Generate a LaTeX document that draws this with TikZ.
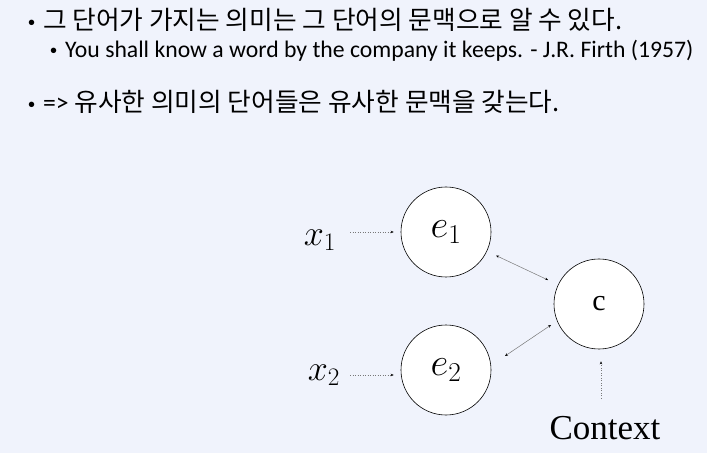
\documentclass[tikz,border=0pt]{standalone}
\usepackage{fix-cm}
\usepackage{fontspec}
\setmainfont{Liberation Serif}
\newfontfamily\krfont{Noto Sans CJK KR}
\newfontfamily\carfont{Carlito}
\newfontfamily\bulfont{Liberation Sans}
\usetikzlibrary{arrows.meta}
\definecolor{bg}{RGB}{240,243,252}
\definecolor{ln}{RGB}{120,120,120}
\newcommand{\bult}{{\bulfont\fontsize{20}{22}\selectfont\raisebox{0.5pt}{•}}}
\tikzset{
  emb/.style={circle,draw=black,fill=white,line width=0.6pt,minimum size=90pt,inner sep=0pt},
  dotarrow/.style={draw=ln,line width=0.5pt,dotted,-{Stealth[length=3pt,width=2.5pt,black]}},
  bothway/.style={draw=ln,line width=0.5pt,{Stealth[length=3pt,width=2.5pt,black]}-{Stealth[length=3pt,width=2.5pt,black]}},
  mlabel/.style={inner sep=0pt,font=\fontsize{36}{40}\selectfont},
  bul/.style={inner sep=0pt,anchor=base west}
}
\begin{document}
\begin{tikzpicture}[x=1pt,y=1pt]
\fill[bg] (0,0) rectangle (707,453);
\useasboundingbox (0,0) rectangle (707,453);
% texts
\node[bul] (b1) at (28,423) {\bult};
\node[bul] (t1) at (43,423) {\fontsize{25.7}{28}\selectfont\krfont 그 단어가 가지는 의미는 그 단어의 문맥으로 알 수 있다.};
\node[bul] (b2) at (50,395) {\bult};
\node[bul] (t2) at (65,395) {\fontsize{23.7}{26}\selectfont\carfont You shall know a word by the company it keeps. - J.R. Firth (1957)};
\node[bul] (b3) at (28,341) {\bult};
\node[bul] (t3) at (43,341) {\fontsize{25.7}{28}\selectfont\carfont => \krfont 유사한 의미의 단어들은 유사한 문맥을 갖는다.};
% nodes
\node[emb] (e1) at (446,221) {\fontsize{39}{42}\selectfont$e_1$};
\node[emb] (e2) at (446,83) {\fontsize{39}{42}\selectfont$e_2$};
\node[emb] (c) at (599,149) {\fontsize{30}{34}\selectfont c};
\node[mlabel] (x1) at (320,213) {$x_1$};
\node[mlabel] (x2) at (324,78) {$x_2$};
\node[inner sep=0pt,font=\fontsize{35}{40}\selectfont] (ctx) at (605,25) {Context};
\coordinate (x1s) at (350,221);
\coordinate (x2s) at (350,78);
\coordinate (cs) at (601,55);
\draw[dotarrow] (x1s) -- ([xshift=-7pt]e1.west);
\draw[dotarrow] (x2s) -- ([xshift=-7pt]e2.west |- x2s);
\draw[dotarrow] (cs) -- ([xshift=2pt,yshift=-12pt]c.south);
\draw[bothway,shorten <=10pt,shorten >=11pt] (e1) -- (c);
\draw[bothway] ([shift={(59pt,14pt)}]e2.center) -- ([shift={(-48pt,-21pt)}]c.center);
\end{tikzpicture}
\end{document}
